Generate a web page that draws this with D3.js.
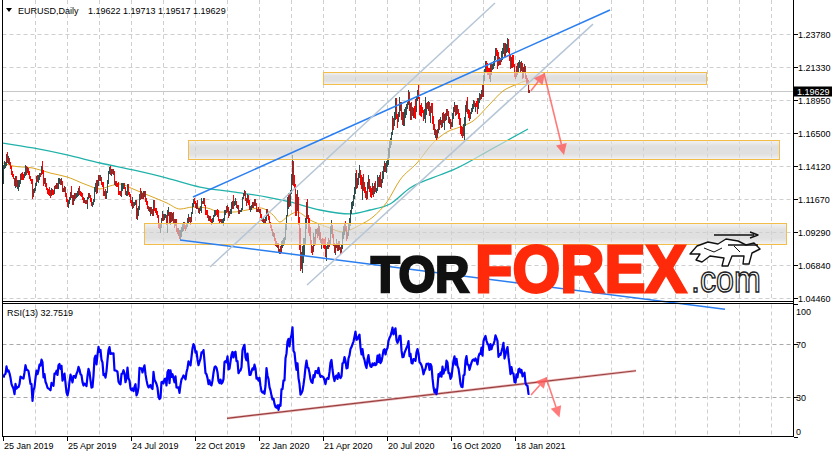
<!DOCTYPE html>
<html><head><meta charset="utf-8">
<script src="https://cdn.jsdelivr.net/npm/d3@7"></script>
<style>
body{margin:0;background:#fff}
svg{display:block}
text{font-family:"Liberation Sans",Arial,sans-serif}
</style></head>
<body><svg id="c" width="838" height="458"></svg>
<script>
// ---------- DATA (prices ×10000) ----------
const symbolTitle = "EURUSD,Daily";
const lastQuote = "1.19622 1.19713 1.19517 1.19629";
const bidPrice = 1.19629;
const rsiTitle = "RSI(13) 32.7519";
const preCloses = [11474,11440,11540,11500,11467,11470,11412,11395,11388,11363,11366,11361,11384,11303];
const highs = [
11416,11445,11440,11502,11514,11488,11467,11441,11413,11375,
11353,11327,11341,11340,11308,11310,11309,11357,11362,11371,
11355,11368,11420,11409,11404,11398,11373,11341,11316,11320,
11245,11251,11290,11339,11346,11345,11362,11362,11411,11448,
11382,11327,11326,11285,11254,11245,11255,11236,11254,11247,
11234,11268,11275,11288,11286,11324,11322,11314,11323,11304,
11251,11265,11261,11217,11168,11162,11186,11224,11265,11203,
11200,11212,11218,11216,11232,11251,11264,11229,11223,11218,
11185,11176,11166,11166,11188,11214,11218,11201,11176,11152,
11170,11259,11285,11307,11309,11348,11346,11346,11331,11298,
11292,11228,11244,11227,11313,11375,11403,11412,11393,11387,
11392,11375,11305,11299,11290,11295,11227,11229,11285,11286,
11287,11286,11261,11232,11283,11282,11224,11209,11166,11187,
11149,11148,11162,11162,11105,11117,11210,11250,11231,11212,
11226,11230,11229,11177,11157,11120,11110,11109,11111,11094,
11162,11164,11108,11102,11084,11052,10998,10988,11035,11085,
11058,11058,11060,11055,11087,11109,11075,11075,11075,11069,
11078,11025,11025,11021,10958,10961,10944,10944,10963,10998,
10999,10999,10980,10998,11034,11063,11042,11037,11076,11139,
11172,11179,11157,11138,11163,11108,11108,11121,11175,11157,
11176,11178,11130,11092,11093,11052,11043,11049,11024,11035,
11052,11091,11089,11088,11094,11093,11027,11027,11023,11026,
11031,11090,11090,11117,11124,11111,11081,11097,11145,11154,
11200,11154,11176,11153,11127,11124,11089,11092,11106,11188,
11213,11239,11226,11181,11207,11200,11162,11118,11127,11145,
11147,11173,11170,11143,11100,11110,11096,11100,11062,11035,
11032,11026,11038,11096,11095,11065,11046,11004,10982,10953,
10929,10924,10884,10865,10845,10851,10807,10830,10864,10868,
10886,10891,10998,11054,11185,11213,11215,11238,11356,11495,
11447,11345,11279,11207,11236,11185,11037,10955,10781,10828,
10887,10885,11031,11147,11168,11052,11031,10965,10873,10830,
10925,10894,10953,10952,10955,10990,10971,10927,10880,10887,
10880,10876,10890,10826,10859,10886,10874,10972,11019,10983,
10918,10848,10835,10875,10851,10864,10863,10819,10835,10927,
10975,10995,11008,10972,10928,10996,11034,11093,11147,11154,
11197,11257,11362,11384,11321,11359,11422,11384,11345,11328,
11350,11297,11256,11228,11294,11349,11317,11264,11254,11289,
11265,11287,11302,11253,11346,11334,11346,11371,11318,11375,
11411,11452,11431,11452,11469,11546,11601,11620,11660,11781,
11762,11807,11908,11908,11793,11810,11916,11880,11884,11806,
11805,11826,11841,11865,11882,11966,11950,11873,11882,11841,
11838,11850,11903,11925,11965,12011,11918,11861,11872,11846,
11825,11826,11917,11873,11883,11888,11882,11852,11870,11872,
11776,11718,11686,11676,11683,11746,11754,11767,11748,11799,
11807,11793,11797,11831,11829,11815,11771,11753,11733,11800,
11842,11880,11859,11860,11860,11827,11799,11761,11707,11695,
11720,11770,11860,11890,11920,11831,11819,11810,11838,11866,
11894,11891,11874,11890,11906,11908,11943,11937,11965,12004,
12077,12121,12177,12178,12168,12132,12128,12165,12159,12162,
12177,12219,12273,12273,12260,12245,12210,12200,12250,12275,
12310,12310,12309,12306,12349,12344,12275,12225,12213,12224,
12222,12160,12093,12145,12168,12171,12190,12172,12177,12165,
12140,12155,12145,12077,12057,12045,11971];
const lows = [
11290,11395,11405,11418,11444,11434,11424,11396,11356,11336,
11322,11273,11258,11269,11249,11234,11267,11290,11317,11320,
11318,11330,11345,11357,11366,11357,11321,11306,11284,11176,
11190,11222,11240,11276,11300,11296,11320,11336,11350,11359,
11273,11290,11266,11244,11212,11209,11203,11183,11201,11208,
11209,11211,11249,11249,11252,11253,11291,11280,11283,11228,
11228,11227,11190,11153,11119,11112,11140,11170,11187,11135,
11136,11161,11175,11184,11191,11201,11210,11200,11192,11170,
11152,11149,11141,11140,11106,11175,11184,11158,11127,11116,
11133,11159,11231,11218,11220,11270,11310,11310,11278,11265,
11202,11197,11181,11181,11223,11284,11363,11355,11348,11361,
11353,11282,11270,11267,11265,11207,11207,11201,11194,11240,
11248,11254,11205,11201,11200,11205,11194,11148,11127,11101,
11115,11125,11133,11028,11027,11056,11100,11168,11181,11177,
11175,11189,11156,11135,11103,11088,11080,11057,11066,11050,
11052,11093,11076,11064,11040,10963,10960,10926,10968,11017,
11015,11021,11036,10985,10927,11054,10993,10991,11009,11017,
10996,10965,10980,10934,10922,10905,10885,10879,10897,10939,
10946,10958,10940,10955,10971,11002,11013,10991,11013,11065,
11119,11143,11109,11106,11103,11072,11071,11092,11075,11138,
11144,11124,11064,11064,11036,11014,11019,11006,10989,10999,
11013,11045,11054,11060,11049,11014,10999,11007,10998,10998,
10981,11018,11064,11074,11085,11040,11054,11065,11065,11106,
11105,11127,11131,11110,11106,11066,11066,11080,11085,11098,
11176,11200,11163,11126,11147,11131,11099,11085,11094,11112,
11111,11126,11126,11082,11084,11081,11078,11036,11019,11010,
10999,10992,11003,11019,11053,11026,10995,10967,10942,10905,
10903,10867,10834,10827,10822,10785,10777,10778,10781,10818,
10837,10850,10880,10950,11052,11107,11120,11127,11212,11280,
11273,11256,11054,11053,11089,10985,10803,10654,10667,10636,
10713,10767,10845,10960,11031,10928,10905,10852,10780,10768,
10788,10832,10848,10925,10892,10910,10879,10856,10813,10848,
10818,10815,10757,10727,10814,10811,10823,10852,10925,10889,
10832,10782,10767,10816,10797,10795,10801,10775,10775,10815,
10886,10913,10944,10873,10885,10907,10951,10977,11069,11101,
11126,11177,11212,11253,11255,11280,11329,11280,11252,11167,
11239,11223,11188,11168,11176,11249,11231,11196,11183,11209,
11192,11211,11228,11220,11240,11268,11269,11263,11257,11296,
11327,11378,11372,11366,11409,11425,11481,11550,11574,11643,
11683,11713,11753,11760,11696,11740,11780,11822,11753,11723,
11711,11712,11774,11790,11836,11866,11822,11753,11754,11785,
11768,11771,11763,11815,11895,11906,11789,11788,11779,11810,
11752,11760,11737,11792,11836,11822,11788,11737,11810,11729,
11680,11646,11625,11612,11625,11659,11684,11718,11696,11707,
11732,11686,11745,11754,11786,11734,11727,11688,11704,11703,
11761,11818,11788,11796,11800,11760,11718,11650,11639,11622,
11640,11603,11715,11818,11800,11771,11745,11766,11798,11815,
11839,11848,11814,11852,11801,11837,11880,11902,11910,11925,
11922,12040,12106,12100,12086,12085,12058,12036,12083,12120,
12129,12153,12194,12221,12130,12152,12160,12160,12180,12196,
12236,12211,12217,12245,12257,12246,12191,12131,12133,12133,
12147,12072,12053,12074,12088,12107,12134,12110,12115,12058,
12060,12110,12055,12010,12011,11952,11952];
const closes = [
11407,11428,11431,11481,11448,11455,11437,11407,11361,11342,
11325,11278,11327,11287,11295,11295,11308,11343,11340,11335,
11333,11358,11391,11371,11371,11366,11339,11308,11307,11193,
11235,11246,11287,11325,11306,11325,11357,11352,11386,11375,
11296,11313,11265,11248,11223,11217,11213,11206,11233,11224,
11217,11263,11262,11274,11257,11297,11302,11284,11296,11233,
11245,11260,11214,11153,11130,11147,11183,11215,11195,11171,
11198,11199,11190,11206,11215,11234,11224,11206,11202,11173,
11157,11163,11159,11152,11180,11203,11192,11162,11130,11131,
11166,11240,11254,11221,11276,11333,11313,11327,11286,11274,
11209,11214,11194,11226,11292,11369,11399,11365,11371,11369,
11372,11287,11287,11285,11280,11226,11214,11209,11253,11255,
11270,11256,11211,11227,11275,11219,11206,11152,11139,11146,
11127,11143,11153,11076,11086,11107,11203,11198,11200,11179,
11200,11215,11172,11138,11108,11091,11095,11100,11083,11077,
11143,11101,11090,11077,11055,10989,10970,10974,11034,11036,
11027,11044,11045,11010,11064,11074,11003,11067,11028,11042,
11017,10991,11020,10941,10939,10940,10898,10933,10959,10966,
10978,10970,10957,10987,11006,11041,11031,11025,11069,11125,
11158,11151,11127,11135,11104,11081,11099,11115,11152,11151,
11166,11127,11075,11069,11050,11018,11032,11009,11005,11022,
11051,11074,11078,11073,11057,11020,11011,11022,11004,11008,
11017,11078,11082,11078,11103,11060,11063,11091,11123,11138,
11121,11145,11150,11121,11121,11079,11087,11089,11100,11178,
11198,11212,11171,11161,11196,11152,11106,11106,11121,11134,
11129,11150,11136,11092,11095,11083,11092,11055,11025,11018,
11021,11009,11031,11093,11060,11044,11000,10980,10944,10913,
10916,10870,10840,10831,10838,10791,10806,10797,10850,10851,
10883,10883,10992,11026,11136,11170,11135,11236,11284,11453,
11284,11270,11183,11104,11183,10996,10900,10681,10697,10722,
10791,10883,11029,11142,11042,11031,10962,10858,10806,10793,
10888,10857,10936,10937,10912,10974,10902,10862,10873,10865,
10858,10822,10781,10823,10828,10822,10873,10954,10981,10906,
10838,10794,10830,10838,10806,10850,10817,10807,10820,10918,
10924,10975,10950,10899,10901,10982,11009,11078,11100,11136,
11169,11238,11335,11288,11297,11342,11373,11299,11254,11317,
11264,11242,11204,11180,11259,11307,11249,11220,11217,11246,
11234,11250,11238,11245,11310,11274,11337,11285,11300,11343,
11400,11411,11383,11427,11445,11526,11570,11596,11656,11753,
11718,11790,11846,11778,11761,11801,11874,11876,11787,11738,
11741,11787,11814,11842,11871,11930,11836,11862,11796,11792,
11834,11832,11822,11902,11937,11913,11857,11850,11837,11815,
11778,11801,11812,11845,11844,11847,11815,11848,11838,11771,
11704,11659,11672,11631,11666,11738,11721,11747,11718,11782,
11734,11762,11759,11826,11815,11746,11746,11706,11718,11770,
11826,11862,11812,11860,11813,11795,11746,11673,11645,11642,
11715,11719,11831,11875,11814,11813,11776,11806,11834,11855,
11860,11853,11870,11858,11840,11892,11914,11913,11963,11927,
12071,12115,12145,12121,12107,12101,12078,12135,12111,12149,
12160,12195,12266,12254,12242,12165,12190,12185,12214,12249,
12297,12216,12250,12297,12327,12270,12220,12151,12207,12158,
12154,12079,12075,12131,12105,12165,12170,12142,12160,12114,
12124,12136,12060,12040,12036,11962,11963];

// moving averages: [bar index, price]
const slowMA = [[0,1.1580],[30,1.1544],[64,1.1493],[97,1.1434],[130,1.1383],[164,1.1324],[197,1.1258],[230,1.1222],[264,1.1185],[287,1.1149],[317,1.1090],[347,1.1061],[367,1.1090],[387,1.1134],[407,1.1251],[437,1.1346],[450,1.1383],[487,1.1529],[525,1.1683]];
const fastMA = [[0,1.1434],[10,1.1412],[30,1.1397],[47,1.1361],[64,1.1332],[84,1.1273],[97,1.1244],[107,1.1266],[117,1.1280],[130,1.1244],[147,1.1193],[164,1.1141],[177,1.1097],[190,1.1112],[204,1.1105],[217,1.1075],[230,1.1075],[244,1.1090],[257,1.1105],[270,1.1054],[277,1.1002],[284,1.1039],[294,1.1075],[307,1.1017],[324,1.0966],[340,1.0929],[347,1.0944],[357,1.0980],[370,1.1039],[384,1.1149],[397,1.1310],[414,1.1434],[430,1.1580],[444,1.1661],[457,1.1697],[470,1.1741],[487,1.1866],[500,1.1961],[512,1.2005],[525,1.2041]];

const priceTicks = [1.2378,1.2133,1.1895,1.1650,1.1412,1.1167,1.0929,1.0684,1.0446];
const rsiTicks = [100,70,30,0];
const rsiLevels = [70,30];
const dateTickIdx = [0,64,128,192,256,320,384,448,512];
const dateTickLabels = ["25 Jan 2019","25 Apr 2019","24 Jul 2019","22 Oct 2019","22 Jan 2020","21 Apr 2020","20 Jul 2020","16 Oct 2020","18 Jan 2021"];

// drawn objects in (bar index, price)
const zones = [
  {i0:320,i1:703,p0:1.2098,p1:1.2012},
  {i0:185,i1:776,p0:1.1602,p1:1.1461},
  {i0:141,i1:783,p0:1.0993,p1:1.0839}];
const trendLines = [
  {a:[190,1.1185],b:[607,1.2554],c:"#2a7ef0"},
  {a:[177,1.0871],b:[722,1.0363],c:"#2a7ef0"},
  {a:[207,1.0673],b:[492,1.2605],c:"#b6c6d6"},
  {a:[304,1.0541],b:[590,1.2450],c:"#b6c6d6"}];
const priceArrows = [{a:[528,1.1963],b:[542,1.2093]},{a:[541,1.2091],b:[561,1.1493]}];
const rsiTrend = {a:[224,13.9],b:[633,49.8]};
const rsiArrows = [{a:[528,31.5],b:[544,45.1]},{a:[543,44.7],b:[556.5,14.5]}];

// ---------- SCALES ----------
const svg = d3.select("#c");
const X0=2.5, XR=793.5, MT=0, MB=301.5, RT=303.5, RB=436.5;
const x = d3.scaleLinear().domain([0,790]).range([3,793]);
const y = d3.scaleLinear().domain([1.0446,1.2378]).range([298,34]);
const yr = d3.scaleLinear().domain([0,100]).range([436.75,304.25]);
const P = v => v/10000;

const defs = svg.append("defs");
const g = defs.append("linearGradient").attr("id","zg").attr("x1",0).attr("y1",0).attr("x2",0).attr("y2",1);
[[0,"#ececec"],[0.3,"#d0d0d0"],[0.7,"#d0d0d0"],[1,"#ececec"]].forEach(s=>g.append("stop").attr("offset",s[0]).attr("stop-color",s[1]));
defs.append("clipPath").attr("id","cm").append("rect").attr("x",X0).attr("y",MT).attr("width",XR-X0).attr("height",MB-MT);
defs.append("clipPath").attr("id","cr").append("rect").attr("x",X0).attr("y",RT).attr("width",XR-X0).attr("height",RB-RT);

// ---------- GRID ----------
const grid = svg.append("g").attr("stroke","#cfcfcf").attr("stroke-dasharray","4,3").attr("stroke-width",1);
d3.range(32,790,32).forEach(i=>{
  const xx=Math.round(x(i))+0.5;
  grid.append("line").attr("x1",xx).attr("x2",xx).attr("y1",MT).attr("y2",MB-1);
  grid.append("line").attr("x1",xx).attr("x2",xx).attr("y1",RT+1).attr("y2",RB);
});
priceTicks.forEach(p=>{
  const yy=Math.round(y(p))+0.5;
  grid.append("line").attr("x1",X0).attr("x2",XR).attr("y1",yy).attr("y2",yy);
});
rsiLevels.forEach(v=>{
  const yy=Math.round(yr(v))+0.5;
  svg.append("line").attr("x1",X0).attr("x2",XR).attr("y1",yy).attr("y2",yy)
    .attr("stroke","#a9a9a9").attr("stroke-dasharray","4,3");
});

// bid line
svg.append("line").attr("x1",X0).attr("x2",XR).attr("y1",Math.round(y(bidPrice))+0.5).attr("y2",Math.round(y(bidPrice))+0.5).attr("stroke","#c8c8c8");

// ---------- MAIN PANEL ----------
const main = svg.append("g").attr("clip-path","url(#cm)");
const maLine = d3.line().x(d=>x(d[0])).y(d=>y(d[1])).curve(d3.curveMonotoneX);
main.append("path").attr("d",maLine(slowMA)).attr("fill","none").attr("stroke","#20b2aa").attr("stroke-width",1.3);
main.append("path").attr("d",maLine(fastMA)).attr("fill","none").attr("stroke","#daa520").attr("stroke-width",1);

const bars = closes.map((c,i)=>({i,h:P(highs[i]),l:P(lows[i]),c:P(c),o:P(i===0?preCloses[preCloses.length-1]:closes[i-1])}));
main.append("g").attr("shape-rendering","crispEdges").selectAll("line").data(bars).join("line")
  .attr("x1",d=>Math.round(x(d.i))+0.5).attr("x2",d=>Math.round(x(d.i))+0.5)
  .attr("y1",d=>y(d.h)).attr("y2",d=>y(d.l)+1)
  .attr("stroke",d=>d.c>=d.o?"#2f4f4f":"#ff0000").attr("stroke-width",1);

// zones
svg.append("g").selectAll("rect").data(zones).join("rect")
  .attr("x",d=>Math.round(x(d.i0))+0.5).attr("y",d=>Math.round(y(d.p0))+0.5)
  .attr("width",d=>Math.round(x(d.i1))-Math.round(x(d.i0)))
  .attr("height",d=>Math.round(y(d.p1))-Math.round(y(d.p0)))
  .attr("fill","url(#zg)").attr("fill-opacity",0.66)
  .attr("stroke","#f2bd48").attr("stroke-width",1);

// trend lines
svg.append("g").selectAll("line").data(trendLines).join("line")
  .attr("x1",d=>x(d.a[0])).attr("y1",d=>y(d.a[1])).attr("x2",d=>x(d.b[0])).attr("y2",d=>y(d.b[1]))
  .attr("stroke",d=>d.c).attr("stroke-width",1.5);

function arrow(gp, x1,y1,x2,y2){
  const ang=Math.atan2(y2-y1,x2-x1), L=11, W=5.5;
  const bx=x2-L*Math.cos(ang), by=y2-L*Math.sin(ang);
  gp.append("line").attr("x1",x1).attr("y1",y1).attr("x2",bx).attr("y2",by)
    .attr("stroke","#ff5a5a").attr("stroke-width",1.6).attr("stroke-opacity",0.8);
  gp.append("path").attr("d",`M${x2},${y2}L${bx+W*Math.sin(ang)},${by-W*Math.cos(ang)}L${bx-W*Math.sin(ang)},${by+W*Math.cos(ang)}Z`)
    .attr("fill","#ff5a5a").attr("fill-opacity",0.8);
}
const ag = svg.append("g");
priceArrows.forEach(d=>arrow(ag,x(d.a[0]),y(d.a[1]),x(d.b[0]),y(d.b[1])));

// ---------- RSI PANEL ----------
const allC = preCloses.concat(closes);
const N=13; let avgG=0, avgL=0;
for(let k=1;k<=N;k++){const d=allC[k]-allC[k-1]; if(d>0)avgG+=d; else avgL-=d;}
avgG/=N; avgL/=N;
const rsi=[];
for(let k=N+1;k<allC.length;k++){
  const d=allC[k]-allC[k-1];
  avgG=(avgG*(N-1)+Math.max(d,0))/N; avgL=(avgL*(N-1)+Math.max(-d,0))/N;
  if(k>=preCloses.length) rsi.push(avgL===0?100:100-100/(1+avgG/avgL));
}
const rg = svg.append("g").attr("clip-path","url(#cr)");
rg.append("line").attr("x1",x(rsiTrend.a[0])).attr("y1",yr(rsiTrend.a[1])).attr("x2",x(rsiTrend.b[0])).attr("y2",yr(rsiTrend.b[1]))
  .attr("stroke","#ecbcbc").attr("stroke-width",2.6);
rg.append("line").attr("x1",x(rsiTrend.a[0])).attr("y1",yr(rsiTrend.a[1])).attr("x2",x(rsiTrend.b[0])).attr("y2",yr(rsiTrend.b[1]))
  .attr("stroke","#9a4040").attr("stroke-width",1.2);
rg.append("path").attr("d",d3.line().x((d,i)=>Math.round(x(i))+0.5).y(d=>yr(d))(rsi))
  .attr("fill","none").attr("stroke","#0000ff").attr("stroke-width",2.2).attr("stroke-linejoin","round");
rsiArrows.forEach(d=>arrow(rg,x(d.a[0]),yr(d.a[1]),x(d.b[0]),yr(d.b[1])));

// ---------- LOGO ----------
const logo = svg.append("g");
logo.append("text").attr("transform","translate(371,292) scale(1.02,1.07)").attr("font-size",46).attr("font-weight","bold")
  .attr("fill","#111").attr("stroke","#111").attr("stroke-width",2.5).text("TOR");
logo.append("text").attr("transform","translate(475,292) scale(1.04,1.12)").attr("font-size",59).attr("font-weight","bold")
  .attr("fill","#ff2a0a").attr("stroke","#ff2a0a").attr("stroke-width",2.5).text("FOREX");
logo.append("text").attr("transform","translate(691,292) scale(1.04,1.2)").attr("font-size",31).attr("font-family","'Liberation Mono',monospace")
  .attr("fill","#fff").attr("stroke","#222").attr("stroke-width",1.2).text(".com");
const ic = logo.append("g").attr("transform","translate(688,232)").attr("fill","#fff").attr("stroke","#111").attr("stroke-width",1.4).attr("stroke-linejoin","round");
ic.append("path").attr("d","M2,22 L9,14 L20,10 L30,12 L38,7 L50,9 L58,13 L66,11 L72,17 L64,21 L61,32 L55,32 L56,24 L44,24 L40,34 L34,34 L36,26 L22,24 L14,30 L8,28 L12,22 Z");
ic.append("path").attr("d","M26,3 L66,3 M62,0 L70,3 L62,6 M40,13 L70,13").attr("fill","none");
ic.append("path").attr("d","M16,16 L26,20 L34,16 M46,14 L52,20").attr("fill","none").attr("stroke-width",1);

// ---------- FRAMES & AXES ----------
const fr = svg.append("g").attr("stroke","#000").attr("stroke-width",1).attr("fill","none").attr("shape-rendering","crispEdges");
fr.append("line").attr("x1",X0).attr("x2",X0).attr("y1",0).attr("y2",RB);
fr.append("line").attr("x1",XR).attr("x2",XR).attr("y1",0).attr("y2",RB);
fr.append("line").attr("x1",X0).attr("x2",XR).attr("y1",MB).attr("y2",MB);
fr.append("line").attr("x1",X0).attr("x2",XR).attr("y1",RT).attr("y2",RT);
fr.append("line").attr("x1",X0).attr("x2",XR).attr("y1",RB).attr("y2",RB);

const axT = svg.append("g").attr("font-size",9).attr("fill","#000");
priceTicks.forEach(p=>{
  const yy=Math.round(y(p))+0.5;
  fr.append("line").attr("x1",XR).attr("x2",XR+4).attr("y1",yy).attr("y2",yy);
  axT.append("text").attr("x",798).attr("y",yy+3.5).text(p.toFixed(5));
});
rsiTicks.forEach(v=>{
  const yy=Math.round(yr(v))+0.5;
  fr.append("line").attr("x1",XR).attr("x2",XR+4).attr("y1",yy).attr("y2",yy);
  const cy=Math.max(311,Math.min(431,yy));
  axT.append("text").attr("x",796).attr("y",cy+3.5).text(v);
});
dateTickIdx.forEach((i,k)=>{
  const xx=Math.round(x(i))+0.5;
  fr.append("line").attr("x1",xx).attr("x2",xx).attr("y1",RB).attr("y2",RB+4);
  axT.append("text").attr("x",xx+0.5).attr("y",449).text(dateTickLabels[k]);
});
// bid label
const by=Math.round(y(bidPrice));
svg.append("rect").attr("x",794).attr("y",by-4.5).attr("width",38).attr("height",10).attr("fill","#000");
svg.append("text").attr("x",797).attr("y",by+3.5).attr("font-size",9).attr("fill","#fff").text(bidPrice.toFixed(5));

// titles
svg.append("path").attr("d","M6,8 L12,8 L9,12 Z").attr("fill","#000");
svg.append("text").attr("x",18).attr("y",14).attr("font-size",9).text(symbolTitle);
svg.append("text").attr("x",88).attr("y",14).attr("font-size",9).text(lastQuote);
svg.append("text").attr("x",7).attr("y",315.5).attr("font-size",9).text(rsiTitle);
</script></body></html>
